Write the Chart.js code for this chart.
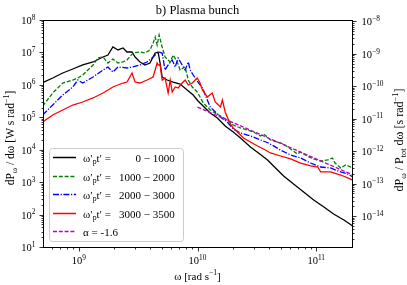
<!DOCTYPE html>
<html>
<head>
<meta charset="utf-8">
<script src="https://cdn.jsdelivr.net/npm/chart.js@4.4.0/dist/chart.umd.min.js"></script>
<style>
  html, body { margin: 0; padding: 0; background: #fff; }
  canvas { display: block; }
</style>
</head>
<body>
<canvas id="chart" width="407" height="285"></canvas>
<script>
// spectra: omega [rad/s] and dP/dw [W s/rad]
const blackW = [4.97e8, 6.04e8, 7.33e8, 8.91e8, 1.08e9, 1.32e9, 1.60e9, 1.76e9, 1.94e9, 2.14e9, 2.36e9, 2.55e9, 2.81e9, 2.98e9, 3.28e9, 3.61e9, 3.98e9, 4.40e9, 4.66e9, 4.84e9, 5.04e9, 5.55e9, 6.24e9, 7.14e9, 8.18e9, 9.20e9, 1.01e10, 1.16e10, 1.28e10, 1.47e10, 1.71e10, 2.00e10, 2.30e10, 2.79e10, 3.26e10, 3.89e10, 4.54e10, 5.31e10, 6.44e10, 7.83e10, 9.51e10, 1.16e11, 1.40e11, 1.71e11, 2.03e11];
const blackP = [1.17e6, 1.63e6, 2.32e6, 3.08e6, 4.10e6, 5.07e6, 7.23e6, 8.33e6, 1.47e7, 1.19e7, 1.37e7, 1.03e7, 1.03e7, 7.23e6, 5.07e6, 4.10e6, 4.72e6, 9.60e6, 1.03e7, 4.72e6, 1.75e6, 1.41e6, 1.22e6, 1.06e6, 6.95e5, 4.87e5, 3.18e5, 1.93e5, 1.36e5, 9.51e4, 5.38e4, 3.52e4, 2.30e4, 1.21e4, 7.93e3, 4.82e3, 2.73e3, 1.55e3, 877, 497, 282, 171, 104, 68.1, 44.5];

const greenW = [4.97e8, 6.04e8, 7.33e8, 8.91e8, 9.82e8, 1.08e9, 1.32e9, 1.45e9, 1.60e9, 1.76e9, 1.94e9, 2.14e9, 2.36e9, 2.55e9, 2.86e9, 3.28e9, 3.61e9, 3.98e9, 4.23e9, 4.40e9, 4.57e9, 4.75e9, 5.04e9, 5.33e9, 5.89e9, 6.24e9, 6.75e9, 7.14e9, 7.87e9, 8.36e9, 9.04e9, 9.95e9, 1.05e10, 1.12e10, 1.28e10, 1.36e10, 1.56e10, 1.78e10, 2.00e10, 2.30e10, 2.63e10, 2.96e10, 3.39e10, 3.60e10, 4.12e10, 4.70e10, 5.31e10, 6.08e10, 6.93e10, 7.38e10, 8.36e10, 9.51e10, 1.09e11, 1.25e11, 1.37e11, 1.44e11, 1.61e11, 1.77e11, 1.95e11, 2.03e11];
const greenP = [2.23e5, 5.61e5, 1.14e6, 1.41e6, 1.63e6, 2.01e6, 4.10e6, 6.73e6, 7.23e6, 4.72e6, 6.27e6, 4.72e6, 5.07e6, 5.84e6, 9.60e6, 1.03e7, 9.60e6, 1.19e7, 1.95e7, 2.99e7, 1.69e7, 3.44e7, 1.47e7, 7.23e6, 5.07e6, 8.33e6, 5.07e6, 2.87e6, 3.56e6, 1.41e6, 8.59e5, 6.03e5, 4.23e5, 2.76e5, 1.68e5, 1.46e5, 1.10e5, 8.25e4, 5.78e4, 4.68e4, 4.06e4, 3.52e4, 2.65e4, 3.05e4, 2.00e4, 1.73e4, 1.50e4, 1.05e4, 7.38e3, 8.50e3, 6.40e3, 5.18e3, 4.49e3, 4.82e3, 5.56e3, 3.89e3, 2.73e3, 3.38e3, 2.93e3, 3.38e3];

const blueW = [4.97e8, 6.04e8, 7.33e8, 8.91e8, 9.82e8, 1.08e9, 1.32e9, 1.60e9, 1.76e9, 1.94e9, 2.14e9, 2.55e9, 2.86e9, 3.28e9, 3.76e9, 4.23e9, 4.66e9, 5.04e9, 5.33e9, 5.66e9, 6.12e9, 6.49e9, 6.87e9, 7.43e9, 7.87e9, 8.36e9, 8.69e9, 9.20e9, 1.01e10, 1.10e10, 1.21e10, 1.28e10, 1.36e10, 1.56e10, 1.78e10, 2.00e10, 2.30e10, 2.63e10, 2.96e10, 3.39e10, 3.96e10, 5.00e10, 6.08e10, 7.38e10, 8.97e10, 1.09e11, 1.32e11, 1.61e11, 1.85e11, 2.03e11];
const blueP = [1.18e5, 2.39e5, 4.87e5, 8.59e5, 1.41e6, 1.14e6, 1.75e6, 2.87e6, 3.56e6, 2.49e6, 3.56e6, 3.31e6, 3.56e6, 4.10e6, 5.07e6, 7.23e6, 1.03e7, 9.60e6, 2.87e6, 4.10e6, 5.84e6, 3.56e6, 6.73e6, 4.10e6, 2.87e6, 5.07e6, 2.87e6, 2.01e6, 1.22e6, 8.00e5, 3.41e5, 2.07e5, 1.68e5, 1.02e5, 7.16e4, 4.36e4, 3.28e4, 2.84e4, 2.47e4, 2.00e4, 1.61e4, 9.80e3, 6.87e3, 5.56e3, 3.89e3, 2.93e3, 2.73e3, 2.06e3, 1.78e3, 1.44e3];

const redW = [4.97e8, 6.04e8, 7.33e8, 8.91e8, 1.08e9, 1.32e9, 1.60e9, 1.94e9, 2.36e9, 2.55e9, 2.81e9, 2.98e9, 3.28e9, 3.76e9, 4.23e9, 4.57e9, 4.66e9, 4.84e9, 5.04e9, 5.33e9, 5.66e9, 5.89e9, 6.12e9, 6.49e9, 6.87e9, 7.43e9, 7.87e9, 8.36e9, 9.04e9, 9.95e9, 1.05e10, 1.10e10, 1.21e10, 1.33e10, 1.41e10, 1.56e10, 1.62e10, 1.71e10, 1.89e10, 2.00e10, 2.21e10, 2.44e10, 2.79e10, 3.20e10, 3.60e10, 4.12e10, 5.00e10, 6.08e10, 7.38e10, 8.97e10, 1.03e11, 1.09e11, 1.32e11, 1.61e11, 2.03e11];
const redP = [7.16e4, 1.18e5, 1.68e5, 2.39e5, 2.96e5, 3.94e5, 5.61e5, 8.59e5, 1.14e6, 1.22e6, 2.32e6, 1.22e6, 1.14e6, 1.41e6, 1.75e6, 4.72e6, 4.10e6, 4.10e6, 1.41e6, 1.63e6, 5.61e5, 1.41e6, 6.03e5, 8.59e5, 8.00e5, 1.14e6, 1.41e6, 9.91e5, 1.14e6, 1.63e6, 1.14e6, 6.95e5, 4.23e5, 5.61e5, 2.96e5, 2.07e5, 3.41e5, 1.46e5, 6.21e4, 4.68e4, 3.28e4, 2.30e4, 1.73e4, 1.30e4, 1.05e4, 7.93e3, 6.40e3, 5.18e3, 3.89e3, 3.15e3, 2.93e3, 2.06e3, 2.06e3, 1.66e3, 1.16e3];

// power law fit, alpha = -1.6 (end points)
const fitW = [1.0e10, 2.0e11];
const fitP = [2.07e5, 1.71e3];

const legendRanges = ['0 \u2212 1000', '1000 \u2212 2000', '2000 \u2212 3000', '3000 \u2212 3500'];
const fitLabel = '\u03b1 = -1.6';

// axis limits and major ticks
const xMin = 5e8, xMax = 2e11;
const yMin = 1e1, yMax = 1e8;
const PTOT = 8.99e15; // right axis = left axis / Ptot
const xMajor = [1e9, 1e10, 1e11];
const yMajor = [1e1, 1e2, 1e3, 1e4, 1e5, 1e6, 1e7, 1e8];
const y2Major = [1e-14, 1e-13, 1e-12, 1e-11, 1e-10, 1e-9, 1e-8];

const FONT = '"Liberation Serif", "DejaVu Serif", serif';

function pts(w, p) {
  return w.map((v, i) => ({x: v, y: p[i]}));
}

function richWidth(ctx, parts, size) {
  let w = 0;
  for (const p of parts) {
    ctx.font = (p[1] ? size * 0.7 : size) + 'px ' + FONT;
    w += ctx.measureText(p[0]).width;
  }
  return w;
}

function drawRich(ctx, parts, x, y, size, align) {
  const w = richWidth(ctx, parts, size);
  let cx = align === 'center' ? x - w / 2 : (align === 'right' ? x - w : x);
  ctx.textAlign = 'left';
  ctx.textBaseline = 'alphabetic';
  for (const p of parts) {
    ctx.font = (p[1] ? size * 0.7 : size) + 'px ' + FONT;
    let dy = 0;
    if (p[1] === 'sup') dy = -size * 0.42;
    if (p[1] === 'sub') dy = size * 0.25;
    ctx.fillText(p[0], cx, y + dy);
    cx += ctx.measureText(p[0]).width;
  }
}

function minorTicks(lo, hi) {
  const out = [];
  for (let e = Math.floor(Math.log10(lo)) - 1; e <= Math.ceil(Math.log10(hi)); e++) {
    for (let m = 2; m < 10; m++) {
      const v = m * Math.pow(10, e);
      if (v > lo && v < hi) out.push(v);
    }
  }
  return out;
}

function expLabel(v) {
  const e = Math.round(Math.log10(v));
  return [['10'], [String(e).replace('-', '\u2212'), 'sup']];
}

const axesPlugin = {
  id: 'axesPlugin',
  afterDraw(chart) {
    const ctx = chart.ctx;
    const a = chart.chartArea;
    const sx = chart.scales.x, sy = chart.scales.y, sy2 = chart.scales.y2;
    const L = Math.round(a.left) + 0.5, R = Math.round(a.right) + 0.5;
    const T = Math.round(a.top) + 0.5, B = Math.round(a.bottom) + 0.5;
    ctx.save();
    ctx.strokeStyle = '#000';
    ctx.fillStyle = '#000';
    ctx.lineWidth = 1;
    ctx.strokeRect(L, T, R - L, B - T);

    ctx.lineWidth = 0.8;
    ctx.beginPath();
    xMajor.forEach(v => { const px = Math.round(sx.getPixelForValue(v)) + 0.5; ctx.moveTo(px, B); ctx.lineTo(px, B + 4); });
    minorTicks(xMin, xMax).forEach(v => { const px = Math.round(sx.getPixelForValue(v)) + 0.5; ctx.moveTo(px, B); ctx.lineTo(px, B + 2); });
    yMajor.forEach(v => { const py = Math.round(sy.getPixelForValue(v)) + 0.5; ctx.moveTo(L, py); ctx.lineTo(L - 4, py); });
    minorTicks(yMin, yMax).forEach(v => { const py = Math.round(sy.getPixelForValue(v)) + 0.5; ctx.moveTo(L, py); ctx.lineTo(L - 2, py); });
    y2Major.forEach(v => { const py = Math.round(sy2.getPixelForValue(v)) + 0.5; ctx.moveTo(R, py); ctx.lineTo(R + 4, py); });
    minorTicks(yMin / PTOT, yMax / PTOT).forEach(v => { const py = Math.round(sy2.getPixelForValue(v)) + 0.5; ctx.moveTo(R, py); ctx.lineTo(R + 2, py); });
    ctx.stroke();

    // tick labels
    xMajor.forEach(v => drawRich(ctx, expLabel(v), sx.getPixelForValue(v), 264, 10.5, 'center'));
    yMajor.forEach(v => drawRich(ctx, expLabel(v), L - 8, sy.getPixelForValue(v) + 4, 10.5, 'right'));
    y2Major.forEach(v => drawRich(ctx, expLabel(v), R + 9, sy2.getPixelForValue(v) + 4, 10.5, 'left'));

    // titles
    const midX = (a.left + a.right) / 2;
    drawRich(ctx, [['b) Plasma bunch']], midX, 14, 12.5, 'center');
    drawRich(ctx, [['\u03c9'], [' [rad s'], ['\u22121', 'sup'], [']']], midX, 280, 11, 'center');
    ctx.save();
    ctx.translate(14, 138);
    ctx.rotate(-Math.PI / 2);
    drawRich(ctx, [['dP'], ['\u03c9', 'sub'], [' / d\u03c9 [W s rad'], ['\u22121', 'sup'], [']']], 0, 0, 11.5, 'center');
    ctx.restore();
    ctx.save();
    ctx.translate(403, 140);
    ctx.rotate(-Math.PI / 2);
    drawRich(ctx, [['dP'], ['\u03c9', 'sub'], [' / P'], ['tot', 'sub'], [' d\u03c9 [s rad'], ['\u22121', 'sup'], [']']], 0, 0, 12, 'center');
    ctx.restore();

    // legend box
    const bx = 49.5, by = 148.5, bw = 134, bh = 93;
    ctx.beginPath();
    ctx.roundRect(bx, by, bw, bh, 3);
    ctx.fillStyle = 'rgba(255,255,255,0.8)';
    ctx.fill();
    ctx.strokeStyle = '#cccccc';
    ctx.lineWidth = 1;
    ctx.stroke();

    const ds = chart.data.datasets;
    const rows = [157.5, 176.5, 194.5, 213.5, 231.5];
    ctx.font = '11px ' + FONT;
    const rangeRight = 119 + ctx.measureText(legendRanges[1]).width;
    ds.forEach((d, i) => {
      const ry = rows[i];
      ctx.beginPath();
      ctx.strokeStyle = d.borderColor;
      ctx.lineWidth = 1.5;
      ctx.setLineDash(d.borderDash || []);
      ctx.moveTo(53, ry);
      ctx.lineTo(76, ry);
      ctx.stroke();
      ctx.setLineDash([]);
      ctx.fillStyle = '#000';
      if (i < legendRanges.length) {
        drawRich(ctx, [['\u03c9\u2032'], ['p', 'sub'], ['t\u2032 =']], 83, ry + 4, 11, 'left');
        drawRich(ctx, [[legendRanges[i]]], rangeRight, ry + 4, 11, 'right');
      } else {
        drawRich(ctx, [[fitLabel]], 83, ry + 4, 11, 'left');
      }
    });
    ctx.restore();
  }
};

const hidden = {grid: {display: false}, border: {display: false}, ticks: {display: false}};

new Chart(document.getElementById('chart'), {
  type: 'line',
  data: {
    datasets: [
      {label: 'black', data: pts(blackW, blackP), borderColor: '#000000', borderWidth: 1.3, order: 5},
      {label: 'green', data: pts(greenW, greenP), borderColor: '#008000', borderWidth: 1.3, borderDash: [4, 1.8], order: 4},
      {label: 'blue', data: pts(blueW, blueP), borderColor: '#0000ff', borderWidth: 1.3, borderDash: [6, 1.6, 1.2, 1.6], order: 3},
      {label: 'red', data: pts(redW, redP), borderColor: '#ff0000', borderWidth: 1.3, order: 2},
      {label: 'fit', data: pts(fitW, fitP), borderColor: '#bf00bf', borderWidth: 1.3, borderDash: [4, 1.8], order: 1}
    ]
  },
  options: {
    responsive: false,
    animation: false,
    devicePixelRatio: 1,
    layout: {padding: {top: 20, left: 0, right: 0, bottom: 0}},
    elements: {point: {radius: 0}, line: {tension: 0, fill: false}},
    plugins: {legend: {display: false}, tooltip: {enabled: false}, title: {display: false}},
    scales: {
      x: Object.assign({type: 'logarithmic', min: xMin, max: xMax, afterFit: s => { s.height = 38; }}, hidden),
      y: Object.assign({type: 'logarithmic', position: 'left', min: yMin, max: yMax, afterFit: s => { s.width = 43; }}, hidden),
      y2: Object.assign({type: 'logarithmic', position: 'right', min: yMin / PTOT, max: yMax / PTOT, afterFit: s => { s.width = 55; }}, hidden)
    }
  },
  plugins: [axesPlugin]
});
</script>
</body>
</html>
